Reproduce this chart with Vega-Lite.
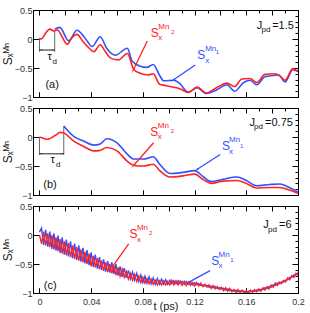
{
"$schema": "https://vega.github.io/schema/vega-lite/v6.json",
"padding": {"left": 0, "right": 6, "top": 5, "bottom": 2},
"spacing": 0,
"config": {
 "view": {"stroke": "black", "strokeWidth": 1},
 "axis": {"domainColor": "black", "tickColor": "black", "tickWidth": 1, "labelFont": "Liberation Sans", "labelFontSize": 9, "labelColor": "#333", "titleFont": "Liberation Sans", "titleFontWeight": "normal", "titleColor": "#222", "grid": false, "labelOverlap": false, "labelFlush": false, "labelBound": false},
 "text": {"font": "Liberation Sans"}
},
"datasets": {
 "a": [
  {"s":"Mn2","t":0,"v":0},{"s":"Mn2","t":0.002,"v":0.01},{"s":"Mn2","t":0.005,"v":0.11},{"s":"Mn2","t":0.008,"v":0.17},{"s":"Mn2","t":0.011,"v":0.14},{"s":"Mn2","t":0.014,"v":0.155},{"s":"Mn2","t":0.0175,"v":0.04},{"s":"Mn2","t":0.0214,"v":-0.09},{"s":"Mn2","t":0.025,"v":0.02},{"s":"Mn2","t":0.029,"v":0.08},{"s":"Mn2","t":0.0335,"v":-0.04},{"s":"Mn2","t":0.038,"v":-0.15},{"s":"Mn2","t":0.042,"v":-0.22},{"s":"Mn2","t":0.047,"v":-0.1},{"s":"Mn2","t":0.051,"v":-0.22},{"s":"Mn2","t":0.055,"v":-0.33},{"s":"Mn2","t":0.061,"v":-0.36},{"s":"Mn2","t":0.068,"v":-0.25},{"s":"Mn2","t":0.073,"v":-0.53},{"s":"Mn2","t":0.078,"v":-0.59},{"s":"Mn2","t":0.084,"v":-0.62},{"s":"Mn2","t":0.088,"v":-0.6},{"s":"Mn2","t":0.093,"v":-0.78},{"s":"Mn2","t":0.097,"v":-0.8},{"s":"Mn2","t":0.101,"v":-0.82},{"s":"Mn2","t":0.109,"v":-0.86},{"s":"Mn2","t":0.115,"v":-0.92},{"s":"Mn2","t":0.122,"v":-0.83},{"s":"Mn2","t":0.129,"v":-0.93},{"s":"Mn2","t":0.137,"v":-0.84},{"s":"Mn2","t":0.145,"v":-0.76},{"s":"Mn2","t":0.151,"v":-0.82},{"s":"Mn2","t":0.1565,"v":-0.69},{"s":"Mn2","t":0.163,"v":-0.68},{"s":"Mn2","t":0.168,"v":-0.75},{"s":"Mn2","t":0.1745,"v":-0.61},{"s":"Mn2","t":0.181,"v":-0.6},{"s":"Mn2","t":0.185,"v":-0.62},{"s":"Mn2","t":0.19,"v":-0.71},{"s":"Mn2","t":0.196,"v":-0.51},{"s":"Mn2","t":0.2,"v":-0.56},
  {"s":"Mn1","t":0.0118,"v":0.17},{"s":"Mn1","t":0.0157,"v":0.2},{"s":"Mn1","t":0.0226,"v":-0.03},{"s":"Mn1","t":0.029,"v":0.15},{"s":"Mn1","t":0.0355,"v":0.01},{"s":"Mn1","t":0.0407,"v":-0.13},{"s":"Mn1","t":0.047,"v":0.04},{"s":"Mn1","t":0.052,"v":-0.16},{"s":"Mn1","t":0.0587,"v":-0.28},{"s":"Mn1","t":0.068,"v":-0.16},{"s":"Mn1","t":0.0716,"v":-0.38},{"s":"Mn1","t":0.078,"v":-0.47},{"s":"Mn1","t":0.083,"v":-0.49},{"s":"Mn1","t":0.088,"v":-0.44},{"s":"Mn1","t":0.093,"v":-0.63},{"s":"Mn1","t":0.096,"v":-0.72},{"s":"Mn1","t":0.104,"v":-0.71},{"s":"Mn1","t":0.109,"v":-0.78},{"s":"Mn1","t":0.115,"v":-0.92},{"s":"Mn1","t":0.122,"v":-0.84},{"s":"Mn1","t":0.129,"v":-0.94},{"s":"Mn1","t":0.137,"v":-0.88},{"s":"Mn1","t":0.145,"v":-0.79},{"s":"Mn1","t":0.151,"v":-0.9},{"s":"Mn1","t":0.158,"v":-0.75},{"s":"Mn1","t":0.163,"v":-0.71},{"s":"Mn1","t":0.168,"v":-0.79},{"s":"Mn1","t":0.1745,"v":-0.65},{"s":"Mn1","t":0.181,"v":-0.63},{"s":"Mn1","t":0.185,"v":-0.62},{"s":"Mn1","t":0.19,"v":-0.74},{"s":"Mn1","t":0.196,"v":-0.53},{"s":"Mn1","t":0.2,"v":-0.56}
 ],
 "b": [
  {"s":"Mn2","t":0,"v":0},{"s":"Mn2","t":0.003,"v":-0.02},{"s":"Mn2","t":0.006,"v":-0.04},{"s":"Mn2","t":0.0124,"v":0.03},{"s":"Mn2","t":0.016,"v":0.08},{"s":"Mn2","t":0.0188,"v":0.07},{"s":"Mn2","t":0.0265,"v":-0.07},{"s":"Mn2","t":0.034,"v":-0.16},{"s":"Mn2","t":0.042,"v":-0.24},{"s":"Mn2","t":0.047,"v":-0.23},{"s":"Mn2","t":0.052,"v":-0.18},{"s":"Mn2","t":0.06,"v":-0.24},{"s":"Mn2","t":0.068,"v":-0.42},{"s":"Mn2","t":0.073,"v":-0.49},{"s":"Mn2","t":0.0805,"v":-0.5},{"s":"Mn2","t":0.088,"v":-0.47},{"s":"Mn2","t":0.093,"v":-0.58},{"s":"Mn2","t":0.101,"v":-0.69},{"s":"Mn2","t":0.111,"v":-0.67},{"s":"Mn2","t":0.12,"v":-0.64},{"s":"Mn2","t":0.127,"v":-0.74},{"s":"Mn2","t":0.133,"v":-0.8},{"s":"Mn2","t":0.142,"v":-0.76},{"s":"Mn2","t":0.1527,"v":-0.75},{"s":"Mn2","t":0.16,"v":-0.8},{"s":"Mn2","t":0.168,"v":-0.88},{"s":"Mn2","t":0.178,"v":-0.87},{"s":"Mn2","t":0.186,"v":-0.87},{"s":"Mn2","t":0.194,"v":-0.92},{"s":"Mn2","t":0.2,"v":-0.97},
  {"s":"Mn1","t":0.0188,"v":0.19},{"s":"Mn1","t":0.0265,"v":0.01},{"s":"Mn1","t":0.034,"v":-0.07},{"s":"Mn1","t":0.042,"v":-0.14},{"s":"Mn1","t":0.047,"v":-0.12},{"s":"Mn1","t":0.052,"v":-0.03},{"s":"Mn1","t":0.06,"v":-0.1},{"s":"Mn1","t":0.068,"v":-0.3},{"s":"Mn1","t":0.073,"v":-0.38},{"s":"Mn1","t":0.0805,"v":-0.38},{"s":"Mn1","t":0.088,"v":-0.34},{"s":"Mn1","t":0.093,"v":-0.47},{"s":"Mn1","t":0.101,"v":-0.63},{"s":"Mn1","t":0.111,"v":-0.61},{"s":"Mn1","t":0.12,"v":-0.58},{"s":"Mn1","t":0.127,"v":-0.69},{"s":"Mn1","t":0.133,"v":-0.77},{"s":"Mn1","t":0.142,"v":-0.73},{"s":"Mn1","t":0.1527,"v":-0.69},{"s":"Mn1","t":0.16,"v":-0.75},{"s":"Mn1","t":0.168,"v":-0.84},{"s":"Mn1","t":0.178,"v":-0.82},{"s":"Mn1","t":0.186,"v":-0.81},{"s":"Mn1","t":0.194,"v":-0.88},{"s":"Mn1","t":0.2,"v":-0.95}
 ],
 "c": [
  {"t":0,"Mn1":0.05,"Mn2":0.0},{"t":0.0016,"Mn1":0.12,"Mn2":-0.15},{"t":0.0032,"Mn1":-0.17,"Mn2":0.06},{"t":0.0048,"Mn1":0.09,"Mn2":-0.18},{"t":0.0064,"Mn1":-0.2,"Mn2":0.03},{"t":0.008,"Mn1":0.06,"Mn2":-0.21},{"t":0.0096,"Mn1":-0.24,"Mn2":0.0},{"t":0.0112,"Mn1":0.03,"Mn2":-0.25},{"t":0.0128,"Mn1":-0.27,"Mn2":-0.04},{"t":0.0144,"Mn1":-0.01,"Mn2":-0.28},{"t":0.016,"Mn1":-0.31,"Mn2":-0.07},{"t":0.0176,"Mn1":-0.04,"Mn2":-0.32},{"t":0.0192,"Mn1":-0.34,"Mn2":-0.11},{"t":0.0208,"Mn1":-0.08,"Mn2":-0.35},{"t":0.0224,"Mn1":-0.37,"Mn2":-0.14},{"t":0.024,"Mn1":-0.11,"Mn2":-0.38},{"t":0.0256,"Mn1":-0.4,"Mn2":-0.18},{"t":0.0272,"Mn1":-0.15,"Mn2":-0.41},{"t":0.0288,"Mn1":-0.43,"Mn2":-0.21},{"t":0.0304,"Mn1":-0.18,"Mn2":-0.44},{"t":0.032,"Mn1":-0.46,"Mn2":-0.25},{"t":0.0336,"Mn1":-0.22,"Mn2":-0.47},{"t":0.0352,"Mn1":-0.49,"Mn2":-0.29},{"t":0.0368,"Mn1":-0.26,"Mn2":-0.5},{"t":0.0384,"Mn1":-0.52,"Mn2":-0.32},{"t":0.04,"Mn1":-0.3,"Mn2":-0.54},{"t":0.0416,"Mn1":-0.55,"Mn2":-0.36},{"t":0.0432,"Mn1":-0.34,"Mn2":-0.56},{"t":0.0448,"Mn1":-0.58,"Mn2":-0.4},{"t":0.0464,"Mn1":-0.38,"Mn2":-0.59},{"t":0.048,"Mn1":-0.6,"Mn2":-0.44},{"t":0.0496,"Mn1":-0.42,"Mn2":-0.62},{"t":0.0512,"Mn1":-0.63,"Mn2":-0.47},{"t":0.0528,"Mn1":-0.45,"Mn2":-0.64},{"t":0.0544,"Mn1":-0.65,"Mn2":-0.5},{"t":0.056,"Mn1":-0.47,"Mn2":-0.66},{"t":0.0576,"Mn1":-0.67,"Mn2":-0.53},{"t":0.0592,"Mn1":-0.5,"Mn2":-0.69},{"t":0.0608,"Mn1":-0.7,"Mn2":-0.56},{"t":0.0624,"Mn1":-0.54,"Mn2":-0.71},{"t":0.064,"Mn1":-0.72,"Mn2":-0.59},{"t":0.0656,"Mn1":-0.57,"Mn2":-0.73},{"t":0.0672,"Mn1":-0.74,"Mn2":-0.63},{"t":0.0688,"Mn1":-0.61,"Mn2":-0.76},{"t":0.0704,"Mn1":-0.76,"Mn2":-0.66},{"t":0.072,"Mn1":-0.64,"Mn2":-0.78},{"t":0.0736,"Mn1":-0.78,"Mn2":-0.68},{"t":0.0752,"Mn1":-0.66,"Mn2":-0.8},{"t":0.0768,"Mn1":-0.8,"Mn2":-0.71},{"t":0.0784,"Mn1":-0.69,"Mn2":-0.82},{"t":0.08,"Mn1":-0.82,"Mn2":-0.73},{"t":0.0816,"Mn1":-0.71,"Mn2":-0.83},{"t":0.0832,"Mn1":-0.83,"Mn2":-0.75},{"t":0.0848,"Mn1":-0.72,"Mn2":-0.84},{"t":0.0864,"Mn1":-0.84,"Mn2":-0.76},{"t":0.088,"Mn1":-0.74,"Mn2":-0.85},{"t":0.0896,"Mn1":-0.85,"Mn2":-0.78},{"t":0.0912,"Mn1":-0.75,"Mn2":-0.86},{"t":0.0928,"Mn1":-0.85,"Mn2":-0.79},{"t":0.0944,"Mn1":-0.76,"Mn2":-0.86},{"t":0.096,"Mn1":-0.85,"Mn2":-0.79},{"t":0.0976,"Mn1":-0.77,"Mn2":-0.86},{"t":0.0992,"Mn1":-0.85,"Mn2":-0.8},{"t":0.1008,"Mn1":-0.78,"Mn2":-0.86},{"t":0.1024,"Mn1":-0.84,"Mn2":-0.78},{"t":0.104,"Mn1":-0.79,"Mn2":-0.86},{"t":0.1056,"Mn1":-0.84,"Mn2":-0.79},{"t":0.1072,"Mn1":-0.79,"Mn2":-0.86},{"t":0.1088,"Mn1":-0.84,"Mn2":-0.79},{"t":0.1104,"Mn1":-0.8,"Mn2":-0.87},{"t":0.112,"Mn1":-0.85,"Mn2":-0.8},{"t":0.1136,"Mn1":-0.8,"Mn2":-0.87},{"t":0.1152,"Mn1":-0.85,"Mn2":-0.81},{"t":0.1168,"Mn1":-0.81,"Mn2":-0.87},{"t":0.1184,"Mn1":-0.86,"Mn2":-0.82},{"t":0.12,"Mn1":-0.82,"Mn2":-0.88},{"t":0.1216,"Mn1":-0.86,"Mn2":-0.82},{"t":0.1232,"Mn1":-0.84,"Mn2":-0.88},{"t":0.1248,"Mn1":-0.87,"Mn2":-0.83},{"t":0.1264,"Mn1":-0.86,"Mn2":-0.89},{"t":0.128,"Mn1":-0.88,"Mn2":-0.85},{"t":0.1296,"Mn1":-0.87,"Mn2":-0.9},{"t":0.1312,"Mn1":-0.9,"Mn2":-0.86},{"t":0.1328,"Mn1":-0.88,"Mn2":-0.92},{"t":0.1344,"Mn1":-0.91,"Mn2":-0.87},{"t":0.136,"Mn1":-0.89,"Mn2":-0.93},{"t":0.1376,"Mn1":-0.92,"Mn2":-0.89},{"t":0.1392,"Mn1":-0.91,"Mn2":-0.94},{"t":0.1408,"Mn1":-0.93,"Mn2":-0.9},{"t":0.1424,"Mn1":-0.92,"Mn2":-0.96},{"t":0.144,"Mn1":-0.95,"Mn2":-0.91},{"t":0.1456,"Mn1":-0.93,"Mn2":-0.97},{"t":0.1472,"Mn1":-0.96,"Mn2":-0.92},{"t":0.1488,"Mn1":-0.95,"Mn2":-0.98},{"t":0.1504,"Mn1":-0.97,"Mn2":-0.94},{"t":0.152,"Mn1":-0.95,"Mn2":-0.99},{"t":0.1536,"Mn1":-0.98,"Mn2":-0.94},{"t":0.1552,"Mn1":-0.96,"Mn2":-0.99},{"t":0.1568,"Mn1":-0.98,"Mn2":-0.95},{"t":0.1584,"Mn1":-0.97,"Mn2":-1.0},{"t":0.16,"Mn1":-0.99,"Mn2":-0.96},{"t":0.1616,"Mn1":-0.97,"Mn2":-1.0},{"t":0.1632,"Mn1":-0.98,"Mn2":-0.95},{"t":0.1648,"Mn1":-0.96,"Mn2":-0.99},{"t":0.1664,"Mn1":-0.97,"Mn2":-0.94},{"t":0.168,"Mn1":-0.95,"Mn2":-0.98},{"t":0.1696,"Mn1":-0.96,"Mn2":-0.93},{"t":0.1712,"Mn1":-0.94,"Mn2":-0.97},{"t":0.1728,"Mn1":-0.94,"Mn2":-0.91},{"t":0.1744,"Mn1":-0.91,"Mn2":-0.95},{"t":0.176,"Mn1":-0.92,"Mn2":-0.89},{"t":0.1776,"Mn1":-0.89,"Mn2":-0.93},{"t":0.1792,"Mn1":-0.9,"Mn2":-0.86},{"t":0.1808,"Mn1":-0.86,"Mn2":-0.9},{"t":0.1824,"Mn1":-0.87,"Mn2":-0.83},{"t":0.184,"Mn1":-0.83,"Mn2":-0.87},{"t":0.1856,"Mn1":-0.84,"Mn2":-0.81},{"t":0.1872,"Mn1":-0.81,"Mn2":-0.84},{"t":0.1888,"Mn1":-0.81,"Mn2":-0.78},{"t":0.1904,"Mn1":-0.78,"Mn2":-0.81},{"t":0.192,"Mn1":-0.77,"Mn2":-0.74},{"t":0.1936,"Mn1":-0.73,"Mn2":-0.77},{"t":0.1952,"Mn1":-0.73,"Mn2":-0.7},{"t":0.1968,"Mn1":-0.69,"Mn2":-0.73},{"t":0.1984,"Mn1":-0.69,"Mn2":-0.66},{"t":0.2,"Mn1":-0.65,"Mn2":-0.69}
 ],
 "txtL": [
  {"p":"a","t":0.0046,"v":-0.79,"txt":"(a)"},{"p":"a","t":0.168,"v":0.224,"txt":"J"},{"p":"a","t":0.18,"v":0.224,"txt":"=1.5"},
  {"p":"b","t":0.003,"v":-0.82,"txt":"(b)"},{"p":"b","t":0.1624,"v":0.25,"txt":"J"},{"p":"b","t":0.1745,"v":0.25,"txt":"=0.75"},
  {"p":"c","t":0.0033,"v":-0.884,"txt":"(c)"},{"p":"c","t":0.1732,"v":0.167,"txt":"J"},{"p":"c","t":0.1853,"v":0.167,"txt":"=6"},
  {"p":"a","t":0.0062,"v":-0.31,"txt":"τ"},{"p":"b","t":0.0085,"v":-0.405,"txt":"τ"}
 ],
 "txtS": [
  {"p":"a","t":0.1718,"v":0.147,"txt":"pd"},{"p":"b","t":0.166,"v":0.17,"txt":"pd"},{"p":"c","t":0.1768,"v":0.09,"txt":"pd"},
  {"p":"a","t":0.01,"v":-0.39,"txt":"d"},{"p":"b","t":0.0127,"v":-0.48,"txt":"d"}
 ],
 "labS": [
  {"p":"a","s":"Mn2","t":0.0861,"v":0.103,"txt":"S"},{"p":"a","s":"Mn1","t":0.122,"v":-0.276,"txt":"S"},
  {"p":"b","s":"Mn2","t":0.0857,"v":0.078,"txt":"S"},{"p":"b","s":"Mn1","t":0.1413,"v":-0.159,"txt":"S"},
  {"p":"c","s":"Mn2","t":0.0697,"v":0.017,"txt":"S"},{"p":"c","s":"Mn1","t":0.1328,"v":-0.441,"txt":"S"}
 ],
 "labM": [
  {"p":"a","s":"Mn2","t":0.0919,"v":0.207,"txt":"Mn"},{"p":"a","s":"Mn2","t":0.0919,"v":0.017,"txt":"x"},
  {"p":"a","s":"Mn1","t":0.1282,"v":-0.172,"txt":"Mn"},{"p":"a","s":"Mn1","t":0.1282,"v":-0.379,"txt":"x"},
  {"p":"b","s":"Mn2","t":0.0915,"v":0.198,"txt":"Mn"},{"p":"b","s":"Mn2","t":0.0915,"v":0.0,"txt":"x"},
  {"p":"b","s":"Mn1","t":0.1467,"v":-0.052,"txt":"Mn"},{"p":"b","s":"Mn1","t":0.1467,"v":-0.25,"txt":"x"},
  {"p":"c","s":"Mn2","t":0.0754,"v":0.116,"txt":"Mn"},{"p":"c","s":"Mn2","t":0.0754,"v":-0.083,"txt":"x"},
  {"p":"c","s":"Mn1","t":0.1385,"v":-0.345,"txt":"Mn"},{"p":"c","s":"Mn1","t":0.1385,"v":-0.54,"txt":"x"}
 ],
 "labN": [
  {"p":"a","s":"Mn2","t":0.1019,"v":0.129,"txt":"2"},{"p":"a","s":"Mn1","t":0.1363,"v":-0.224,"txt":"1"},
  {"p":"b","s":"Mn2","t":0.1015,"v":0.095,"txt":"2"},{"p":"b","s":"Mn1","t":0.1552,"v":-0.147,"txt":"1"},
  {"p":"c","s":"Mn2","t":0.0847,"v":0.03,"txt":"2"},{"p":"c","s":"Mn1","t":0.1475,"v":-0.428,"txt":"1"}
 ],
 "arr": [
  {"p":"a","s":"Mn2","t":0.0834,"v":-0.034,"t2":0.0726,"v2":-0.534,"dir":206},
  {"p":"a","s":"Mn1","t":0.1205,"v":-0.448,"t2":0.1035,"v2":-0.707,"dir":236},
  {"p":"b","s":"Mn2","t":0.0883,"v":-0.1,"t2":0.0728,"v2":-0.491,"dir":221},
  {"p":"b","s":"Mn1","t":0.1398,"v":-0.302,"t2":0.1218,"v2":-0.56,"dir":237},
  {"p":"c","s":"Mn2","t":0.069,"v":-0.155,"t2":0.0561,"v2":-0.557,"dir":216},
  {"p":"c","s":"Mn1","t":0.132,"v":-0.614,"t2":0.1153,"v2":-0.816,"dir":242}
 ],
 "tauV": [
  {"p":"a","t":0,"v":0.02,"v2":-0.22},{"p":"a","t":0.0118,"v":0.155,"v2":-0.22},
  {"p":"b","t":0,"v":0,"v2":-0.31},{"p":"b","t":0.0188,"v":0.19,"v2":-0.31}
 ],
 "tauH": [
  {"p":"a","t":0,"t2":0.0118,"v":-0.19},{"p":"b","t":0,"t2":0.0188,"v":-0.29}
 ],
 "tauP": [
  {"p":"a","t":0.0015,"v":-0.19,"dir":270},{"p":"a","t":0.0103,"v":-0.19,"dir":90},
  {"p":"b","t":0.0015,"v":-0.29,"dir":270},{"p":"b","t":0.0173,"v":-0.29,"dir":90}
 ]
},
"vconcat": [
 {
  "width": 265, "height": 87,
  "resolve": {"axis": {"x": "independent", "y": "independent"}},
  "layer": [
   {"layer": [
    {"data": {"name": "a"}, "transform": [{"filter": "datum.s=='Mn1'"}],
     "mark": {"type": "line", "color": "#3350ff", "strokeWidth": 1.6, "interpolate": "monotone", "clip": true},
     "encoding": {
      "x": {"field": "t", "type": "quantitative", "scale": {"domain": [-0.005, 0.2], "nice": false, "zero": false},
       "axis": {"orient": "bottom", "values": [0,0.01,0.02,0.03,0.04,0.05,0.06,0.07,0.08,0.09,0.1,0.11,0.12,0.13,0.14,0.15,0.16,0.17,0.18,0.19,0.2], "labels": false, "title": null,
        "tickSize": {"condition": {"test": "round(datum.value*100)%2==0", "value": -5}, "value": -3}}},
      "y": {"field": "v", "type": "quantitative", "scale": {"domain": [-1, 0.5], "nice": false, "zero": false},
       "axis": {"orient": "left", "values": [-1,-0.9,-0.8,-0.7,-0.6,-0.5,-0.4,-0.3,-0.2,-0.1,0,0.1,0.2,0.3,0.4,0.5], "labels": false, "title": null,
        "tickSize": {"condition": {"test": "abs(datum.value*2-round(datum.value*2))<0.01", "value": -6}, "value": -3}}}
     }},
    {"data": {"name": "tauV"}, "transform": [{"filter": "datum.p=='a'"}], "mark": {"type": "rule", "color": "#666", "strokeWidth": 1},
     "encoding": {"x": {"field": "t", "type": "quantitative"}, "y": {"field": "v", "type": "quantitative"}, "y2": {"field": "v2"}}},
    {"data": {"name": "tauH"}, "transform": [{"filter": "datum.p=='a'"}], "mark": {"type": "rule", "color": "#222", "strokeWidth": 1},
     "encoding": {"x": {"field": "t", "type": "quantitative"}, "x2": {"field": "t2"}, "y": {"field": "v", "type": "quantitative"}}},
    {"data": {"name": "tauP"}, "transform": [{"filter": "datum.p=='a'"}], "mark": {"type": "point", "shape": "wedge", "filled": true, "size": 14, "color": "#222", "opacity": 1},
     "encoding": {"x": {"field": "t", "type": "quantitative"}, "y": {"field": "v", "type": "quantitative"}, "angle": {"field": "dir", "type": "quantitative", "scale": null}}},
    {"data": {"name": "arr"}, "transform": [{"filter": "datum.p=='a'"}], "mark": {"type": "rule", "strokeWidth": 1.3},
     "encoding": {"x": {"field": "t", "type": "quantitative"}, "x2": {"field": "t2"}, "y": {"field": "v", "type": "quantitative"}, "y2": {"field": "v2"},
      "color": {"field": "s", "type": "nominal", "scale": {"domain": ["Mn1", "Mn2"], "range": ["#3350ff", "#ff2222"]}, "legend": null}}},
    {"data": {"name": "arr"}, "transform": [{"filter": "datum.p=='a'"}], "mark": {"type": "point", "shape": "wedge", "filled": true, "size": 45, "opacity": 1},
     "encoding": {"x": {"field": "t2", "type": "quantitative"}, "y": {"field": "v2", "type": "quantitative"}, "angle": {"field": "dir", "type": "quantitative", "scale": null},
      "color": {"field": "s", "type": "nominal", "legend": null}}},
    {"data": {"name": "txtL"}, "transform": [{"filter": "datum.p=='a'"}], "mark": {"type": "text", "align": "left", "baseline": "middle", "fontSize": 11, "color": "#111"},
     "encoding": {"x": {"field": "t", "type": "quantitative"}, "y": {"field": "v", "type": "quantitative"}, "text": {"field": "txt"}}},
    {"data": {"name": "txtS"}, "transform": [{"filter": "datum.p=='a'"}], "mark": {"type": "text", "align": "left", "baseline": "middle", "fontSize": 8, "color": "#111"},
     "encoding": {"x": {"field": "t", "type": "quantitative"}, "y": {"field": "v", "type": "quantitative"}, "text": {"field": "txt"}}},
    {"data": {"name": "labS"}, "transform": [{"filter": "datum.p=='a'"}], "mark": {"type": "text", "align": "left", "baseline": "middle", "fontSize": 12},
     "encoding": {"x": {"field": "t", "type": "quantitative"}, "y": {"field": "v", "type": "quantitative"}, "text": {"field": "txt"}, "color": {"field": "s", "type": "nominal", "legend": null}}},
    {"data": {"name": "labM"}, "transform": [{"filter": "datum.p=='a'"}], "mark": {"type": "text", "align": "left", "baseline": "middle", "fontSize": 8},
     "encoding": {"x": {"field": "t", "type": "quantitative"}, "y": {"field": "v", "type": "quantitative"}, "text": {"field": "txt"}, "color": {"field": "s", "type": "nominal", "legend": null}}},
    {"data": {"name": "labN"}, "transform": [{"filter": "datum.p=='a'"}], "mark": {"type": "text", "align": "left", "baseline": "middle", "fontSize": 6},
     "encoding": {"x": {"field": "t", "type": "quantitative"}, "y": {"field": "v", "type": "quantitative"}, "text": {"field": "txt"}, "color": {"field": "s", "type": "nominal", "legend": null}}}
   ]},
   {"data": {"name": "a"}, "transform": [{"filter": "datum.s=='Mn2'"}],
    "mark": {"type": "line", "opacity": 0},
    "encoding": {
     "x": {"field": "t", "type": "quantitative",
      "axis": {"orient": "bottom", "values": [0,0.04,0.08,0.12,0.16,0.2], "labels": false, "title": null, "tickSize": -5}},
     "y": {"field": "v", "type": "quantitative",
      "axis": {"orient": "left", "values": [-1,-0.5,0,0.5], "format": "~g", "labelOverlap": false, "tickSize": -6,
       "labelPadding": 7, "title": "Sₓᴹⁿ", "titleFontSize": 12, "titlePadding": 0}}
    }},
   {"data": {"name": "a"}, "transform": [{"filter": "datum.s=='Mn2'"}],
    "mark": {"type": "line", "color": "#ff2222", "strokeWidth": 1.6, "interpolate": "monotone", "clip": true},
    "encoding": {
     "x": {"field": "t", "type": "quantitative", "scale": {"domain": [-0.005, 0.2], "nice": false, "zero": false},
      "axis": {"orient": "top", "values": [0,0.01,0.02,0.03,0.04,0.05,0.06,0.07,0.08,0.09,0.1,0.11,0.12,0.13,0.14,0.15,0.16,0.17,0.18,0.19,0.2], "labels": false, "title": null,
       "tickSize": {"condition": {"test": "round(datum.value*100)%2==0", "value": -5}, "value": -3}}},
     "y": {"field": "v", "type": "quantitative", "scale": {"domain": [-1, 0.5], "nice": false, "zero": false},
      "axis": {"orient": "right", "values": [-1,-0.9,-0.8,-0.7,-0.6,-0.5,-0.4,-0.3,-0.2,-0.1,0,0.1,0.2,0.3,0.4,0.5], "labels": false, "title": null,
       "tickSize": {"condition": {"test": "abs(datum.value*2-round(datum.value*2))<0.01", "value": -6}, "value": -3}}}
    }}
  ]
 },
 {
  "width": 265, "height": 87,
  "resolve": {"axis": {"x": "independent", "y": "independent"}},
  "layer": [
   {"layer": [
    {"data": {"name": "b"}, "transform": [{"filter": "datum.s=='Mn1'"}],
     "mark": {"type": "line", "color": "#3350ff", "strokeWidth": 1.6, "interpolate": "monotone", "clip": true},
     "encoding": {
      "x": {"field": "t", "type": "quantitative", "scale": {"domain": [-0.005, 0.2], "nice": false, "zero": false},
       "axis": {"orient": "bottom", "values": [0,0.01,0.02,0.03,0.04,0.05,0.06,0.07,0.08,0.09,0.1,0.11,0.12,0.13,0.14,0.15,0.16,0.17,0.18,0.19,0.2], "labels": false, "title": null,
        "tickSize": {"condition": {"test": "round(datum.value*100)%2==0", "value": -5}, "value": -3}}},
      "y": {"field": "v", "type": "quantitative", "scale": {"domain": [-1, 0.5], "nice": false, "zero": false},
       "axis": {"orient": "left", "values": [-1,-0.9,-0.8,-0.7,-0.6,-0.5,-0.4,-0.3,-0.2,-0.1,0,0.1,0.2,0.3,0.4,0.5], "labels": false, "title": null,
        "tickSize": {"condition": {"test": "abs(datum.value*2-round(datum.value*2))<0.01", "value": -6}, "value": -3}}}
     }},
    {"data": {"name": "tauV"}, "transform": [{"filter": "datum.p=='b'"}], "mark": {"type": "rule", "color": "#666", "strokeWidth": 1},
     "encoding": {"x": {"field": "t", "type": "quantitative"}, "y": {"field": "v", "type": "quantitative"}, "y2": {"field": "v2"}}},
    {"data": {"name": "tauH"}, "transform": [{"filter": "datum.p=='b'"}], "mark": {"type": "rule", "color": "#222", "strokeWidth": 1},
     "encoding": {"x": {"field": "t", "type": "quantitative"}, "x2": {"field": "t2"}, "y": {"field": "v", "type": "quantitative"}}},
    {"data": {"name": "tauP"}, "transform": [{"filter": "datum.p=='b'"}], "mark": {"type": "point", "shape": "wedge", "filled": true, "size": 14, "color": "#222", "opacity": 1},
     "encoding": {"x": {"field": "t", "type": "quantitative"}, "y": {"field": "v", "type": "quantitative"}, "angle": {"field": "dir", "type": "quantitative", "scale": null}}},
    {"data": {"name": "arr"}, "transform": [{"filter": "datum.p=='b'"}], "mark": {"type": "rule", "strokeWidth": 1.3},
     "encoding": {"x": {"field": "t", "type": "quantitative"}, "x2": {"field": "t2"}, "y": {"field": "v", "type": "quantitative"}, "y2": {"field": "v2"},
      "color": {"field": "s", "type": "nominal", "scale": {"domain": ["Mn1", "Mn2"], "range": ["#3350ff", "#ff2222"]}, "legend": null}}},
    {"data": {"name": "arr"}, "transform": [{"filter": "datum.p=='b'"}], "mark": {"type": "point", "shape": "wedge", "filled": true, "size": 45, "opacity": 1},
     "encoding": {"x": {"field": "t2", "type": "quantitative"}, "y": {"field": "v2", "type": "quantitative"}, "angle": {"field": "dir", "type": "quantitative", "scale": null},
      "color": {"field": "s", "type": "nominal", "legend": null}}},
    {"data": {"name": "txtL"}, "transform": [{"filter": "datum.p=='b'"}], "mark": {"type": "text", "align": "left", "baseline": "middle", "fontSize": 11, "color": "#111"},
     "encoding": {"x": {"field": "t", "type": "quantitative"}, "y": {"field": "v", "type": "quantitative"}, "text": {"field": "txt"}}},
    {"data": {"name": "txtS"}, "transform": [{"filter": "datum.p=='b'"}], "mark": {"type": "text", "align": "left", "baseline": "middle", "fontSize": 8, "color": "#111"},
     "encoding": {"x": {"field": "t", "type": "quantitative"}, "y": {"field": "v", "type": "quantitative"}, "text": {"field": "txt"}}},
    {"data": {"name": "labS"}, "transform": [{"filter": "datum.p=='b'"}], "mark": {"type": "text", "align": "left", "baseline": "middle", "fontSize": 12},
     "encoding": {"x": {"field": "t", "type": "quantitative"}, "y": {"field": "v", "type": "quantitative"}, "text": {"field": "txt"}, "color": {"field": "s", "type": "nominal", "legend": null}}},
    {"data": {"name": "labM"}, "transform": [{"filter": "datum.p=='b'"}], "mark": {"type": "text", "align": "left", "baseline": "middle", "fontSize": 8},
     "encoding": {"x": {"field": "t", "type": "quantitative"}, "y": {"field": "v", "type": "quantitative"}, "text": {"field": "txt"}, "color": {"field": "s", "type": "nominal", "legend": null}}},
    {"data": {"name": "labN"}, "transform": [{"filter": "datum.p=='b'"}], "mark": {"type": "text", "align": "left", "baseline": "middle", "fontSize": 6},
     "encoding": {"x": {"field": "t", "type": "quantitative"}, "y": {"field": "v", "type": "quantitative"}, "text": {"field": "txt"}, "color": {"field": "s", "type": "nominal", "legend": null}}}
   ]},
   {"data": {"name": "b"}, "transform": [{"filter": "datum.s=='Mn2'"}],
    "mark": {"type": "line", "opacity": 0},
    "encoding": {
     "x": {"field": "t", "type": "quantitative",
      "axis": {"orient": "bottom", "values": [0,0.04,0.08,0.12,0.16,0.2], "labels": false, "title": null, "tickSize": -5}},
     "y": {"field": "v", "type": "quantitative",
      "axis": {"orient": "left", "values": [-1,-0.5,0,0.5], "format": "~g", "labelOverlap": false, "tickSize": -6,
       "labelPadding": 7, "title": "Sₓᴹⁿ", "titleFontSize": 12, "titlePadding": 0}}
    }},
   {"data": {"name": "b"}, "transform": [{"filter": "datum.s=='Mn2'"}],
    "mark": {"type": "line", "color": "#ff2222", "strokeWidth": 1.6, "interpolate": "monotone", "clip": true},
    "encoding": {
     "x": {"field": "t", "type": "quantitative", "scale": {"domain": [-0.005, 0.2], "nice": false, "zero": false},
      "axis": {"orient": "top", "values": [0,0.01,0.02,0.03,0.04,0.05,0.06,0.07,0.08,0.09,0.1,0.11,0.12,0.13,0.14,0.15,0.16,0.17,0.18,0.19,0.2], "labels": false, "title": null,
       "tickSize": {"condition": {"test": "round(datum.value*100)%2==0", "value": -5}, "value": -3}}},
     "y": {"field": "v", "type": "quantitative", "scale": {"domain": [-1, 0.5], "nice": false, "zero": false},
      "axis": {"orient": "right", "values": [-1,-0.9,-0.8,-0.7,-0.6,-0.5,-0.4,-0.3,-0.2,-0.1,0,0.1,0.2,0.3,0.4,0.5], "labels": false, "title": null,
       "tickSize": {"condition": {"test": "abs(datum.value*2-round(datum.value*2))<0.01", "value": -6}, "value": -3}}}
    }}
  ]
 },
 {
  "width": 265, "height": 87,
  "resolve": {"axis": {"x": "independent", "y": "independent"}},
  "layer": [
   {"layer": [
    {"data": {"name": "c"}, "transform": [{"fold": ["Mn1", "Mn2"], "as": ["s", "v"]}, {"filter": "datum.s=='Mn1'"}],
     "mark": {"type": "line", "color": "#3350ff", "strokeWidth": 1.4, "clip": true},
     "encoding": {
      "x": {"field": "t", "type": "quantitative", "scale": {"domain": [-0.005, 0.2], "nice": false, "zero": false},
       "axis": {"orient": "bottom", "values": [0,0.01,0.02,0.03,0.04,0.05,0.06,0.07,0.08,0.09,0.1,0.11,0.12,0.13,0.14,0.15,0.16,0.17,0.18,0.19,0.2], "labels": false, "title": null,
        "tickSize": {"condition": {"test": "round(datum.value*100)%2==0", "value": -5}, "value": -3}}},
      "y": {"field": "v", "type": "quantitative", "scale": {"domain": [-1, 0.5], "nice": false, "zero": false},
       "axis": {"orient": "left", "values": [-1,-0.9,-0.8,-0.7,-0.6,-0.5,-0.4,-0.3,-0.2,-0.1,0,0.1,0.2,0.3,0.4,0.5], "labels": false, "title": null,
        "tickSize": {"condition": {"test": "abs(datum.value*2-round(datum.value*2))<0.01", "value": -6}, "value": -3}}}
     }},
    {"data": {"name": "arr"}, "transform": [{"filter": "datum.p=='c'"}], "mark": {"type": "rule", "strokeWidth": 1.3},
     "encoding": {"x": {"field": "t", "type": "quantitative"}, "x2": {"field": "t2"}, "y": {"field": "v", "type": "quantitative"}, "y2": {"field": "v2"},
      "color": {"field": "s", "type": "nominal", "scale": {"domain": ["Mn1", "Mn2"], "range": ["#3350ff", "#ff2222"]}, "legend": null}}},
    {"data": {"name": "arr"}, "transform": [{"filter": "datum.p=='c'"}], "mark": {"type": "point", "shape": "wedge", "filled": true, "size": 45, "opacity": 1},
     "encoding": {"x": {"field": "t2", "type": "quantitative"}, "y": {"field": "v2", "type": "quantitative"}, "angle": {"field": "dir", "type": "quantitative", "scale": null},
      "color": {"field": "s", "type": "nominal", "legend": null}}},
    {"data": {"name": "txtL"}, "transform": [{"filter": "datum.p=='c'"}], "mark": {"type": "text", "align": "left", "baseline": "middle", "fontSize": 11, "color": "#111"},
     "encoding": {"x": {"field": "t", "type": "quantitative"}, "y": {"field": "v", "type": "quantitative"}, "text": {"field": "txt"}}},
    {"data": {"name": "txtS"}, "transform": [{"filter": "datum.p=='c'"}], "mark": {"type": "text", "align": "left", "baseline": "middle", "fontSize": 8, "color": "#111"},
     "encoding": {"x": {"field": "t", "type": "quantitative"}, "y": {"field": "v", "type": "quantitative"}, "text": {"field": "txt"}}},
    {"data": {"name": "labS"}, "transform": [{"filter": "datum.p=='c'"}], "mark": {"type": "text", "align": "left", "baseline": "middle", "fontSize": 12},
     "encoding": {"x": {"field": "t", "type": "quantitative"}, "y": {"field": "v", "type": "quantitative"}, "text": {"field": "txt"}, "color": {"field": "s", "type": "nominal", "legend": null}}},
    {"data": {"name": "labM"}, "transform": [{"filter": "datum.p=='c'"}], "mark": {"type": "text", "align": "left", "baseline": "middle", "fontSize": 8},
     "encoding": {"x": {"field": "t", "type": "quantitative"}, "y": {"field": "v", "type": "quantitative"}, "text": {"field": "txt"}, "color": {"field": "s", "type": "nominal", "legend": null}}},
    {"data": {"name": "labN"}, "transform": [{"filter": "datum.p=='c'"}], "mark": {"type": "text", "align": "left", "baseline": "middle", "fontSize": 6},
     "encoding": {"x": {"field": "t", "type": "quantitative"}, "y": {"field": "v", "type": "quantitative"}, "text": {"field": "txt"}, "color": {"field": "s", "type": "nominal", "legend": null}}}
   ]},
   {"data": {"name": "c"}, "transform": [{"fold": ["Mn1", "Mn2"], "as": ["s", "v"]}, {"filter": "datum.s=='Mn2'"}],
    "mark": {"type": "line", "opacity": 0},
    "encoding": {
     "x": {"field": "t", "type": "quantitative",
      "axis": {"orient": "bottom", "values": [0,0.04,0.08,0.12,0.16,0.2], "format": ".2~f", "labelOverlap": false, "labelPadding": 9, "tickSize": -5,
       "title": "t (ps)", "titleFontSize": 11, "titlePadding": -6}},
     "y": {"field": "v", "type": "quantitative",
      "axis": {"orient": "left", "values": [-1,-0.5,0,0.5], "format": "~g", "labelOverlap": false, "tickSize": -6,
       "labelPadding": 7, "title": "Sₓᴹⁿ", "titleFontSize": 12, "titlePadding": 0}}
    }},
   {"data": {"name": "c"}, "transform": [{"fold": ["Mn1", "Mn2"], "as": ["s", "v"]}, {"filter": "datum.s=='Mn2'"}],
    "mark": {"type": "line", "color": "#ff2222", "strokeWidth": 1.4, "clip": true},
    "encoding": {
     "x": {"field": "t", "type": "quantitative", "scale": {"domain": [-0.005, 0.2], "nice": false, "zero": false},
      "axis": {"orient": "top", "values": [0,0.01,0.02,0.03,0.04,0.05,0.06,0.07,0.08,0.09,0.1,0.11,0.12,0.13,0.14,0.15,0.16,0.17,0.18,0.19,0.2], "labels": false, "title": null,
       "tickSize": {"condition": {"test": "round(datum.value*100)%2==0", "value": -5}, "value": -3}}},
     "y": {"field": "v", "type": "quantitative", "scale": {"domain": [-1, 0.5], "nice": false, "zero": false},
      "axis": {"orient": "right", "values": [-1,-0.9,-0.8,-0.7,-0.6,-0.5,-0.4,-0.3,-0.2,-0.1,0,0.1,0.2,0.3,0.4,0.5], "labels": false, "title": null,
       "tickSize": {"condition": {"test": "abs(datum.value*2-round(datum.value*2))<0.01", "value": -6}, "value": -3}}}
    }}
  ]
 }
]
}
